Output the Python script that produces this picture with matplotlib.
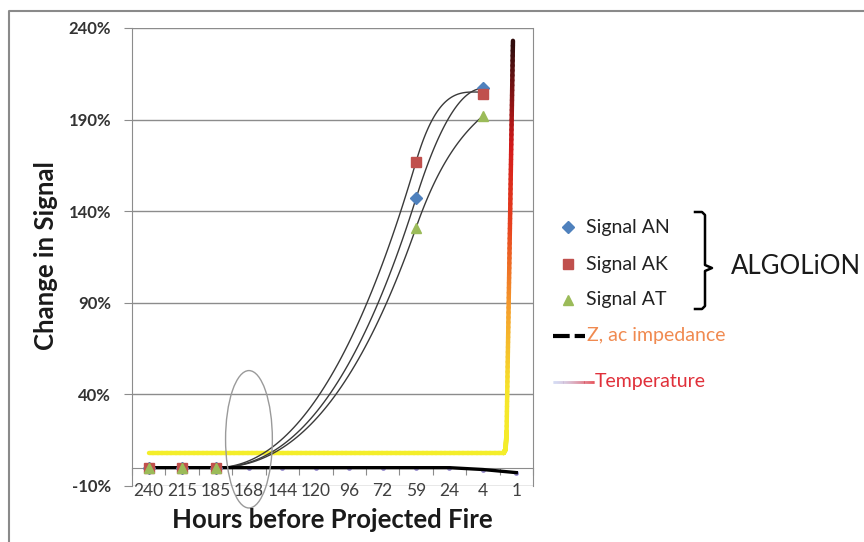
import numpy as np
import matplotlib.pyplot as plt
from matplotlib.collections import LineCollection
from matplotlib.colors import LinearSegmentedColormap, to_rgb
from matplotlib.lines import Line2D
from matplotlib.patches import Ellipse

plt.rcParams['font.family'] = ['Lato', 'DejaVu Sans']

# hours before the projected fire (category axis)
hours = ['240', '215', '185', '168', '144', '120', '96', '72', '59', '24', '4', '1']

# measured signals: value (%) at category index
sig_idx = [0, 1, 2, 8, 10]
signal_an = [0, 0, 0, 147, 207]
signal_ak = [0, 0, 0, 167, 204]
signal_at = [0, 0, 0, 131, 192]

# trend curves: knots at category index, value and tangent (%/category)
trend_idx = [2, 8, 10]
trend_an = ([0, 147, 207], [0, 58, 0])
trend_ak = ([0, 167, 205], [0, 62, 0])
trend_at = ([0, 131, 192], [0, 52, 16])

# Z, ac impedance
z_vals = [0, 0, 0, 0, 0, 0, 0, 0, 0, 0, -1.0, -2.7]

# temperature trace (position in category units, value %)
temp_pos = [0, 10.62, 10.68, 10.71, 10.9]
temp_vals = [8, 8, 10, 20, 233]

yticks = [-10, 40, 90, 140, 190, 240]

W, H = 864, 542
fig = plt.figure(figsize=(W / 100, H / 100), dpi=100)


def fx(px):
    return px / W


def fy(py):
    return 1 - py / H


ax = fig.add_axes([fx(132), fy(486), fx(533) - fx(132), fy(28) - fy(486)])
ax.set_xlim(-0.5, 11.5)
ax.set_ylim(-10, 240)

grid_c = '#8c8c8c'
ax.set_yticks(yticks)
ax.set_yticklabels([f'{v}%' for v in yticks], fontsize=12, fontweight='bold', color='#333333')
ax.yaxis.grid(True, color=grid_c, lw=1.0)
ax.tick_params(axis='y', length=6, color=grid_c, pad=9)

# horizontal axis crosses at 0, labels sit at the bottom
ax.spines['bottom'].set_position(('data', 0))
ax.spines['bottom'].set_color(grid_c)
ax.spines['top'].set_visible(False)
ax.spines['left'].set_color(grid_c)
ax.spines['right'].set_color(grid_c)
ax.set_xticks(np.arange(-0.5, 12, 1))
ax.set_xticklabels([])
ax.tick_params(axis='x', length=5, color=grid_c, direction='out')
for i, lab in enumerate(hours):
    ax.text(i, -12.8, lab, ha='center', va='center', fontsize=12.5, color='#404040', clip_on=False)

ax.set_axisbelow(True)


def hermite(xk, yk, mk, n=60):
    xs, ys = [], []
    for k in range(len(xk) - 1):
        h = xk[k + 1] - xk[k]
        t = np.linspace(0, 1, n)
        h00 = 2 * t**3 - 3 * t**2 + 1
        h10 = t**3 - 2 * t**2 + t
        h01 = -2 * t**3 + 3 * t**2
        h11 = t**3 - t**2
        xs.append(xk[k] + h * t)
        ys.append(h00 * yk[k] + h10 * h * mk[k] + h01 * yk[k + 1] + h11 * h * mk[k + 1])
    return np.concatenate(xs), np.concatenate(ys)


# temperature trace with a yellow -> red -> dark colour ramp
heat = LinearSegmentedColormap.from_list('heat', [
    (0.0, '#f4ee2a'), (0.15, '#f6e52a'), (0.35, '#f5a02c'),
    (0.55, '#e8431f'), (0.75, '#d41a1a'), (1.0, '#2e0c0c')])
tx, ty = [], []
for k in range(len(temp_pos) - 1):
    s = np.linspace(0, 1, 80)
    tx.append(temp_pos[k] + (temp_pos[k + 1] - temp_pos[k]) * s)
    ty.append(temp_vals[k] + (temp_vals[k + 1] - temp_vals[k]) * s)
tx, ty = np.concatenate(tx), np.concatenate(ty)
pts = np.column_stack([tx, ty]).reshape(-1, 1, 2)
segs = np.concatenate([pts[:-1], pts[1:]], axis=1)
lc = LineCollection(segs, cmap=heat, norm=plt.Normalize(8, 233), lw=3.2, capstyle='round', zorder=3)
lc.set_array((ty[:-1] + ty[1:]) / 2)
ax.add_collection(lc)

# trend curves
for vals, slopes in (trend_ak, trend_an, trend_at):
    cx, cy = hermite(trend_idx, vals, slopes)
    ax.plot(cx, cy, color='#3a3a3a', lw=1.0, zorder=4)

# impedance and baseline
pos = np.arange(len(hours))
ax.plot(pos, z_vals, color='#9a8fd0', lw=1.0, marker='o', ms=2.5, zorder=4)
ax.plot(pos, z_vals, color='black', lw=2.4, zorder=5)

# signal markers
ax.plot(sig_idx, signal_an, ls='none', marker='D', ms=6, color='#4f81bd', zorder=6)
ax.plot(sig_idx, signal_ak, ls='none', marker='s', ms=7.5, color='#c0504d', zorder=6)
ax.plot(sig_idx, signal_at, ls='none', marker='^', ms=7, color='#9bbb59', zorder=6)

ax.add_patch(Ellipse((3.0, 15.5), 1.4, 75, fill=False, edgecolor='#9a9a9a', lw=1.0,
                     clip_on=False, zorder=7))

# axis titles
fig.text(fx(46), fy(256), 'Change in Signal', rotation=90, ha='center', va='center',
         fontsize=18.5, fontweight='bold', color='#1a1a1a')
fig.text(fx(332), fy(520), 'Hours before Projected Fire', ha='center', va='center',
         fontsize=18.5, fontweight='bold', color='#1a1a1a')

# legend, drawn by hand
leg = [('D', '#4f81bd', 6, 'Signal AN', 227), ('s', '#c0504d', 7, 'Signal AK', 264),
       ('^', '#9bbb59', 7, 'Signal AT', 300)]
for m, c, ms, lab, py in leg:
    fig.add_artist(Line2D([fx(568)], [fy(py)], marker=m, color=c, ms=ms, ls='none'))
    fig.text(fx(586), fy(py), lab, ha='left', va='center', fontsize=14, color='#222222')

br_x = [695, 702, 705, 705, 712, 705, 705, 702, 695]
br_y = [212, 212, 215, 265, 268, 271, 306, 309, 309]
fig.add_artist(Line2D([fx(v) for v in br_x], [fy(v) for v in br_y], color='black', lw=1.8))
fig.text(fx(731), fy(267), 'ALGOLiON', ha='left', va='center', fontsize=18.5, color='#1a1a1a')

fig.add_artist(Line2D([fx(553), fx(585)], [fy(336), fy(336)], color='black', lw=3,
                      dashes=(4, 1.2)))
fig.text(fx(587), fy(336), 'Z, ac impedance', ha='left', va='center', fontsize=14, color='#f08a50')

gx = np.linspace(fx(553), fx(594), 40)
gseg = [[(gx[k], fy(382)), (gx[k + 1], fy(382))] for k in range(len(gx) - 1)]
c0, c1 = np.array(to_rgb('#c8d0f0')), np.array(to_rgb('#e0202a'))
gcol = [c0 + (c1 - c0) * (k / (len(gseg) - 1)) ** 1.5 for k in range(len(gseg))]
fig.add_artist(LineCollection(gseg, colors=gcol, lw=2, transform=fig.transFigure))
fig.text(fx(595), fy(382), 'Temperature', ha='left', va='center', fontsize=14, color='#e0303a')

# outer frame
fig.add_artist(Line2D([fx(9), fx(9), fx(W)], [0, fy(11), fy(11)], color='#8a8a8a', lw=1.5))

fig.savefig('out.png', dpi=100)
